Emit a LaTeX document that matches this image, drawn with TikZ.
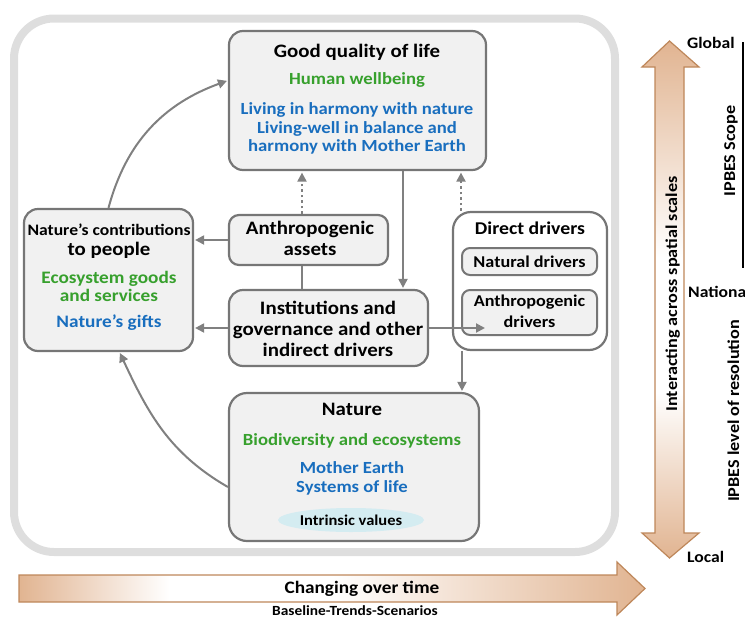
\documentclass[tikz,border=0pt]{standalone}
\usepackage{fontspec}
\setmainfont{Carlito}[FakeStretch=1.1]
\usetikzlibrary{arrows.meta,shapes.geometric}
\definecolor{boxgray}{RGB}{118,118,118}
\definecolor{boxfill}{RGB}{241,241,241}
\definecolor{framegray}{RGB}{222,222,222}
\definecolor{arrgray}{RGB}{128,128,128}
\definecolor{greenc}{RGB}{55,160,45}
\definecolor{bluec}{RGB}{25,110,190}
\definecolor{tanc}{RGB}{225,180,145}
\definecolor{brownc}{RGB}{190,135,90}
\definecolor{ellfill}{RGB}{212,236,241}
\pgfdeclarehorizontalshading{hshade}{100bp}{color(0bp)=(tanc); color(25bp)=(tanc); color(37bp)=(white); color(50bp)=(white); color(75bp)=(tanc); color(100bp)=(tanc)}
\pgfdeclareverticalshading{vshade}{100bp}{color(0bp)=(tanc); color(25bp)=(tanc); color(41bp)=(white); color(54bp)=(white); color(75bp)=(tanc); color(100bp)=(tanc)}
\newcommand{\fsz}[1]{\bfseries\fontsize{#1}{#1}\selectfont}
\begin{document}
\begin{tikzpicture}[x=1pt,y=-1pt,
  box/.style={draw=boxgray, line width=2.2pt, fill=boxfill, rounded corners=14pt, inner sep=0},
  wbox/.style={draw=boxgray, line width=2.2pt, fill=white, rounded corners=18pt, inner sep=0},
  sbox/.style={draw=boxgray, line width=2pt, fill=boxfill, rounded corners=8pt, inner sep=0},
  frame/.style={draw=framegray, line width=8pt, rounded corners=40pt, inner sep=0},
  tx/.style={font=\fsz{17}, inner sep=0, anchor=base},
  hd/.style={font=\fsz{19}, inner sep=0, anchor=base},
  txs/.style={font=\fsz{16.5}, inner sep=0, anchor=base},
  gr/.style={tx, text=greenc},
  bl/.style={tx, text=bluec},
  arr/.style={draw=arrgray, line width=2pt, -{Triangle[length=9pt,width=9pt]}, shorten >=1pt},
  dotarr/.style={draw=arrgray, line width=2pt, dash pattern=on 2.5pt off 3pt, -{Triangle[length=9pt,width=9pt]}, shorten >=1.5pt},
  plain/.style={draw=arrgray, line width=2pt}
]
\useasboundingbox (0,0) rectangle (745,619);

% outer frame
\node[frame, minimum width=601pt, minimum height=533.5pt] (frame) at (314.5,285.25) {};

% boxes
\node[box, minimum width=257pt, minimum height=139pt] (gq) at (357.5,100.5) {};
\node[box, minimum width=169pt, minimum height=142pt] (ncp) at (108.5,280) {};
\node[box, rounded corners=10pt, minimum width=159pt, minimum height=50pt] (aa) at (308.5,240) {};
\node[box, minimum width=199pt, minimum height=76pt] (inst) at (328.5,328) {};
\node[wbox, minimum width=154pt, minimum height=138pt] (dd) at (530,281) {};
\node[sbox, minimum width=135pt, minimum height=27pt] (nd) at (529.5,261.5) {};
\node[sbox, minimum width=135pt, minimum height=45pt] (ad) at (529.5,312.5) {};
\node[box, rounded corners=18pt, minimum width=250pt, minimum height=148pt] (nat) at (354,467) {};
\node[ellipse, fill=ellfill, minimum width=146pt, minimum height=24pt, inner sep=0] (iv) at (351,520) {};

% texts: good quality of life
\node[hd] (t1) at (357,57) {Good quality of life};
\node[gr] (t2) at (357,84) {Human wellbeing};
\node[bl] (t3) at (357,114) {Living in harmony with nature};
\node[bl] (t4) at (357,133) {Living-well in balance and};
\node[bl] (t5) at (357,151) {harmony with Mother Earth};
% nature's contributions
\node[tx, font=\fsz{16}] (n1) at (109,235) {Nature’s contributions};
\node[hd] (n2) at (109,255) {to people};
\node[gr, font=\fsz{17.5}] (n3) at (109,283) {Ecosystem goods};
\node[gr, font=\fsz{17.5}] (n4) at (109,301) {and services};
\node[bl, font=\fsz{17.5}] (n5) at (109,327) {Nature’s gifts};
% anthropogenic assets
\node[hd] (a1) at (310,234) {Anthropogenic};
\node[hd] (a2) at (310,255) {assets};
% institutions
\node[hd] (i1) at (328,314) {Institutions and};
\node[hd] (i2) at (328,335) {governance and other};
\node[hd] (i3) at (328,356) {indirect drivers};
% direct drivers
\node[hd, font=\fsz{18}] (d1) at (530,234) {Direct drivers};
\node[txs] (d2) at (529.5,267) {Natural drivers};
\node[txs] (d3) at (529.5,306) {Anthropogenic};
\node[txs] (d4) at (529.5,327) {drivers};
% nature
\node[hd] (m1) at (352,415) {Nature};
\node[gr] (m2) at (352,445) {Biodiversity and ecosystems};
\node[bl] (m3) at (352,473) {Mother Earth};
\node[bl] (m4) at (352,492) {Systems of life};
\node[tx, font=\fsz{15}] (m5) at (351,525) {Intrinsic values};

% connectors
\draw[arr] (ncp.north) to[out=75,in=200] ([yshift=20pt]gq.west);
\draw[arr] ([yshift=-20pt]nat.west) to[out=150,in=-65] ([xshift=11pt]ncp.south);
\draw[arr] (aa.west) -- (aa.west -| ncp.east);
\draw[arr] (inst.west) -- (inst.west -| ncp.east);
\draw[dotarr] ([xshift=-6.5pt]aa.north) -- ([xshift=-6.5pt]aa.north |- gq.south);
\draw[plain] ([xshift=-6.5pt]aa.south) -- ([xshift=-6.5pt]aa.south |- inst.north);
\draw[arr] ([xshift=45.5pt]gq.south) -- ([xshift=45.5pt]gq.south |- inst.north);
\draw[dotarr] ([xshift=-69pt]dd.north) -- ([xshift=-69pt]dd.north |- gq.south);
\draw[arr] ([xshift=-68pt]dd.south) -- ([xshift=-68pt]dd.south |- nat.north);
\draw[arr] (inst.east) -- ([xshift=25pt]ad.west |- inst.east);

% vertical arrow
\shadedraw[shading=vshade, draw=brownc, line width=1.2pt] (655,67) -- (642,67) -- (669.5,41) -- (699,67) -- (684,67) -- (684,533) -- (699,533) -- (669.5,558) -- (642,533) -- (655,533) -- cycle;
\node[tx, font=\fsz{16.5}, rotate=90] (vs) at (677,294) {Interacting across spatial scales};
\node[tx, font=\fsz{16}, anchor=base west] (gl) at (687,48) {Global};
\node[tx, font=\fsz{16}, anchor=base west] (na) at (688,297) {National};
\node[tx, font=\fsz{16}, anchor=base west] (lo) at (687,562) {Local};
\draw[line width=1.5pt] (743,42) -- (743,268);
\node[tx, font=\fsz{16.5}, rotate=90] (sc) at (735,151) {IPBES Scope};
\node[tx, font=\fsz{16.5}, rotate=90] (rs) at (739,411) {IPBES level of resolution};

% horizontal arrow
\shadedraw[shading=hshade, draw=brownc, line width=1.2pt] (19,575) -- (617,575) -- (617,562) -- (645,588.5) -- (617,615) -- (617,602) -- (19,602) -- cycle;
\node[tx, font=\fsz{17.5}] (ch) at (362,593) {Changing over time};
\node[tx, font=\fsz{14}] (bt) at (355,615.5) {Baseline-Trends-Scenarios};
\end{tikzpicture}
\end{document}
